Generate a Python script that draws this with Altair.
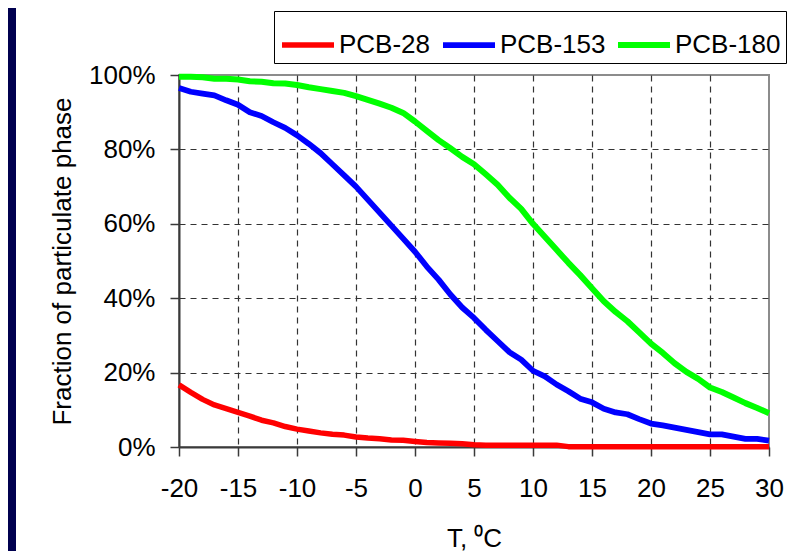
import altair as alt
import pandas as pd

temps = list(range(-20, 31))

pcb28 = [16.7, 14.7, 12.8, 11.3, 10.3, 9.3, 8.3, 7.2, 6.5, 5.5,
         4.8, 4.3, 3.8, 3.4, 3.2, 2.7, 2.4, 2.2, 1.9, 1.8,
         1.5, 1.2, 1.1, 1.0, 0.9, 0.6, 0.5, 0.5, 0.5, 0.5,
         0.5, 0.5, 0.5, 0.1, 0.1, 0.1, 0.1, 0.1, 0.1, 0.1,
         0.1, 0.1, 0.1, 0.1, 0.1, 0.1, 0.1, 0.1, 0.1, 0.1,
         0.1]

pcb153 = [96.5, 95.5, 95.0, 94.5, 93.2, 92.0, 90.0, 89.0, 87.3, 85.8,
          83.8, 81.5, 79.0, 76.0, 73.0, 70.0, 66.5, 63.0, 59.5, 56.0,
          52.5, 48.5, 45.0, 41.0, 37.5, 34.7, 31.5, 28.5, 25.5, 23.5,
          20.5, 19.0, 16.8, 15.0, 13.0, 12.0, 10.3, 9.3, 8.8, 7.5,
          6.3, 5.8, 5.2, 4.6, 4.0, 3.4, 3.4, 2.8, 2.2, 2.2,
          1.7]

pcb180 = [99.5, 99.5, 99.4, 99.0, 99.0, 98.8, 98.3, 98.2, 97.8, 97.7,
          97.3, 96.7, 96.2, 95.7, 95.2, 94.3, 93.3, 92.3, 91.2, 89.8,
          87.5, 85.0, 82.5, 80.3, 78.0, 76.0, 73.3, 70.5, 67.0, 64.0,
          60.0, 56.5, 53.0, 49.5, 46.2, 42.7, 39.2, 36.3, 33.8, 30.8,
          27.8, 25.3, 22.5, 20.2, 18.3, 16.0, 14.8, 13.3, 11.8, 10.5,
          9.1]

series_names = ["PCB-28", "PCB-153", "PCB-180"]
series_colors = ["#FF0000", "#0000FF", "#00FF00"]
series_widths = [5.5, 6, 3.5]

x_ticks = list(range(-20, 31, 5))
y_ticks = [0, 0.2, 0.4, 0.6, 0.8, 1.0]

rows = []
for name, vals in zip(series_names, [pcb28, pcb153, pcb180]):
    for t, v in zip(temps, vals):
        rows.append({"T": t, "frac": v / 100.0, "series": name})
df = pd.DataFrame(rows)

FONT = "Liberation Sans"

strip = alt.Chart(pd.DataFrame({"a": [0]})).mark_rect(color="#00004F").encode(
    x=alt.value(-171), x2=alt.value(-163), y=alt.value(-67), y2=alt.value(476)
)

lines = alt.Chart(df).mark_line(strokeJoin="round").encode(
    x=alt.X("T:Q",
            scale=alt.Scale(domain=[-20, 30], nice=False, zero=False),
            axis=alt.Axis(values=x_ticks, title="T, \u2070C",
                          labelExpr="'' + datum.value",
                          labelFont=FONT, labelFontSize=26,
                          labelOverlap=False, labelFlush=False,
                          labelPadding=19, titlePadding=24,
                          gridOpacity={"condition": {"test": "datum.value <= -20 || datum.value >= 30", "value": 0}, "value": 1})),
    y=alt.Y("frac:Q",
            scale=alt.Scale(domain=[0, 1], nice=False),
            axis=alt.Axis(values=y_ticks, format=".0%", title="Fraction of particulate phase",
                          labelFont=FONT, labelFontSize=26,
                          labelOverlap=False, labelFlush=False,
                          labelPadding=15, titlePadding=13,
                          gridOpacity={"condition": {"test": "datum.value <= 0 || datum.value >= 1", "value": 0}, "value": 1})),
    color=alt.Color("series:N",
                    scale=alt.Scale(domain=series_names, range=series_colors),
                    legend=alt.Legend(title=None, orient="none", legendX=95, legendY=-64,
                                      direction="horizontal", symbolType="stroke",
                                      symbolSize=2704, symbolStrokeWidth=5,
                                      labelFont=FONT, labelFontSize=26, labelColor="black",
                                      fillColor="white", strokeColor="black",
                                      padding=5, columnPadding=0, labelOffset=2,
                                      labelLimit=300)),
    strokeWidth=alt.StrokeWidth("series:N",
                                scale=alt.Scale(domain=series_names, range=series_widths),
                                legend=None),
)

chart = alt.layer(strip, lines).properties(
    width=590, height=372,
    autosize=alt.AutoSizeParams(type="none"),
    padding={"left": 171, "top": 67, "right": 32, "bottom": 104},
    background="white",
).configure_view(
    stroke="#8c8c8c", strokeWidth=2
).configure_axis(
    domainColor="#3a3a3a", domainWidth=2,
    tickColor="#3a3a3a", tickSize=9, tickWidth=1.5,
    gridColor="#333333", gridDash=[6, 5], gridWidth=1.2,
    labelFont=FONT, labelFontSize=26, labelColor="black",
    titleFont=FONT, titleFontSize=26, titleFontWeight="normal", titleColor="black",
)

chart.save("out.html", embed_options={"renderer": "svg", "actions": False})
